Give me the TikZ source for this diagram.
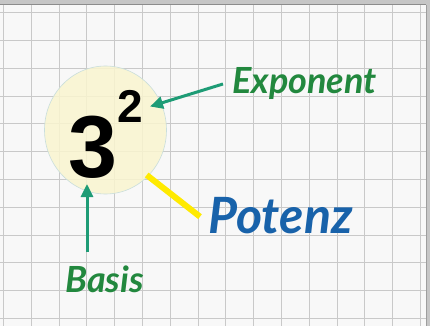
\documentclass[tikz,border=0pt]{standalone}
\usepackage{fontspec}
\setmainfont{Lato}
\newfontfamily\digitfont{Liberation Sans}
\newfontfamily\handfont{Lato}
\usetikzlibrary{arrows.meta,shapes.geometric}
\definecolor{framegray}{HTML}{C6C6C6}
\definecolor{framedark}{HTML}{8C8C8C}
\definecolor{paper}{HTML}{F8F8F8}
\definecolor{gridgray}{HTML}{C9C9C9}
\definecolor{ballfill}{HTML}{FAF5CF}
\definecolor{balledge}{HTML}{C9DEDC}
\definecolor{labelgreen}{HTML}{22883E}
\definecolor{arrowgreen}{HTML}{1E9C76}
\definecolor{potblue}{HTML}{1862AA}
\definecolor{linkyellow}{HTML}{FFEA00}
\tikzset{
  gridline/.style={draw=gridgray, line width=0.9pt},
  ball/.style={ellipse, fill=ballfill, fill opacity=0.85, draw=balledge, line width=0.6pt,
    minimum width=122pt, minimum height=128pt, inner sep=0pt},
  bigdigit/.style={anchor=base, inner sep=0pt, font=\digitfont\bfseries\fontsize{88}{88}\selectfont},
  supdigit/.style={anchor=base, inner sep=0pt, font=\digitfont\bfseries\fontsize{46}{46}\selectfont},
  termlabel/.style={anchor=base west, inner sep=0pt, text=labelgreen,
    font=\handfont\bfseries\itshape\fontsize{36}{36}\selectfont},
  pointer/.style={draw=arrowgreen, line width=3pt,
    -{Triangle[length=13pt,width=12pt]}},
  link/.style={draw=linkyellow, line width=6pt}
}
\begin{document}
\begin{tikzpicture}[x=1pt,y=-1pt]
\useasboundingbox (0,0) rectangle (430,326);
% sheet and its frame
\fill[framegray] (0,0) rectangle (430,326);
\fill[paper] (0,5) rectangle (426,326);
\foreach \i in {0,...,15} \draw[gridline] ({3.5+27.8*\i},5) -- ({3.5+27.8*\i},326);
\foreach \j in {0,...,11} \draw[gridline] (0,{12.7+27.8*\j}) -- (426,{12.7+27.8*\j});
\draw[framedark, line width=1.2pt] (0,4.6) -- (426,4.6);
\draw[framegray!80!black, line width=0.6pt] (426,4.6) -- (426,326);

% the power 3^2
\node[ball] (pw) at (105.5,130) {};
\node[bigdigit] (base) at (93,177) {3};
\node[supdigit] (expo) at (130.5,122) {2};

% labels
\node[termlabel] (explabel) at (232,93) {Exponent};
\node[termlabel] (baslabel) at (65,292) {Basis};
\node[termlabel, text=potblue, font=\handfont\bfseries\itshape\fontsize{50}{50}\selectfont] (potlabel) at (208,233) {Potenz};

% connectors
\coordinate (exptip) at (150,106.5);
\coordinate (bastip) at (87,184);
\coordinate (linkstart) at (146.7,175);
\coordinate (linkend) at (200,216.7);
\draw[pointer] ([xshift=-9pt,yshift=-1pt]explabel.west) -- (exptip);
\draw[pointer] (baslabel.north west -| bastip) ++(0,-13) -- (bastip);
\draw[link] (linkstart) -- (linkend);
\end{tikzpicture}
\end{document}
